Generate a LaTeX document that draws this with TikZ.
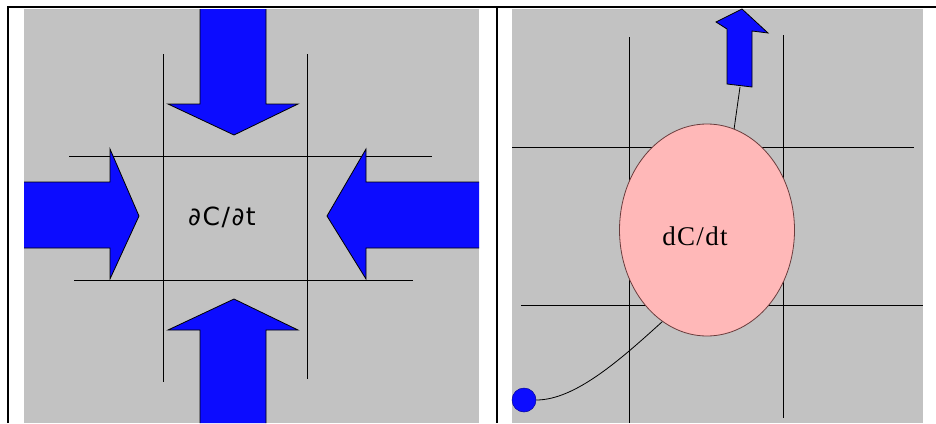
\documentclass[tikz,border=0pt]{standalone}
\usepackage{xcolor}
\usepackage{fontspec}
\usepackage{tikz}
\usetikzlibrary{positioning,shapes.geometric}
\newfontfamily\sansfont[LetterSpace=6]{DejaVu Sans}
\newfontfamily\seriffont[LetterSpace=5]{Liberation Serif}
\definecolor{panelgray}{RGB}{194,194,194}
\definecolor{fluxblue}{RGB}{12,12,255}
\definecolor{cellpink}{RGB}{255,184,184}
\definecolor{cellrim}{RGB}{105,60,60}

\begin{document}
\begin{tikzpicture}[x=1pt, y=-1pt,
  panel/.style={fill=panelgray, draw=none},
  gridline/.style={draw=black, line width=0.9pt},
  flux/.style={fill=fluxblue, draw=black, line width=0.8pt, line join=miter},
  frame/.style={draw=black, line width=2.2pt},
  cell/.style={ellipse, draw=cellrim, fill=cellpink, line width=0.8pt, minimum width=175pt, minimum height=212pt, inner sep=0pt},
  every node/.style={inner sep=0pt}
]
\useasboundingbox (0,0) rectangle (936,423);
\fill[white] (0,0) rectangle (936,423);

% Left panel: partial derivative balance
\path[panel] (24,9) rectangle (479,423);
\draw[gridline] (163,54) -- (163,382);
\draw[gridline] (307,54) -- (307,379);
\draw[gridline] (69,156) -- (432,156);
\draw[gridline] (74,280) -- (413,280);
\draw[flux] (200,9) -- (200,104) -- (168,104) -- (234,135) -- (298,104) -- (266,104) -- (266,9);
\draw[flux] (200,423) -- (200,330) -- (168,330) -- (234,299) -- (298,330) -- (266,330) -- (266,423);
\draw[flux] (24,182) -- (110,182) -- (110,149) -- (139,216) -- (110,279) -- (110,248) -- (24,248);
\draw[flux] (479,182) -- (366,182) -- (366,149) -- (327,216) -- (366,279) -- (366,248) -- (479,248);
\node[font=\sansfont\fontsize{25}{29}\selectfont] (pdrate) at (222,217) {∂C/∂t};

% Right panel: single cell
\path[panel] (512,9) rectangle (923,423);
\draw[gridline] (629,37) -- (629,423);
\draw[gridline] (783,35) -- (783,418);
\draw[gridline] (512,147) -- (914,147);
\draw[gridline] (521,305) -- (923,305);
\node[cell] (cell) at (707,230) {};
\node[font=\seriffont\fontsize{27}{31}\selectfont] (rate) at (695,236) {dC/dt};
\draw[flux] (727,84) -- (727,29) -- (716,22) -- (742,9) -- (768,33) -- (752,31) -- (752,87) -- cycle;
\coordinate (outflow) at (740,87);
\node[circle, fill=fluxblue, draw=fluxblue!60!black, line width=0.5pt, minimum width=20pt, minimum height=24pt] (src) at (524,400) {};
\draw[line width=0.8pt] (cell.75) -- (outflow);
\draw[line width=0.8pt] (src.east) .. controls (575,400) and (620,360) .. (cell.244);

% Frame
\draw[frame] (8,423) -- (8,7) -- (936,7);
\draw[frame] (497,7) -- (497,423);
\end{tikzpicture}
\end{document}
